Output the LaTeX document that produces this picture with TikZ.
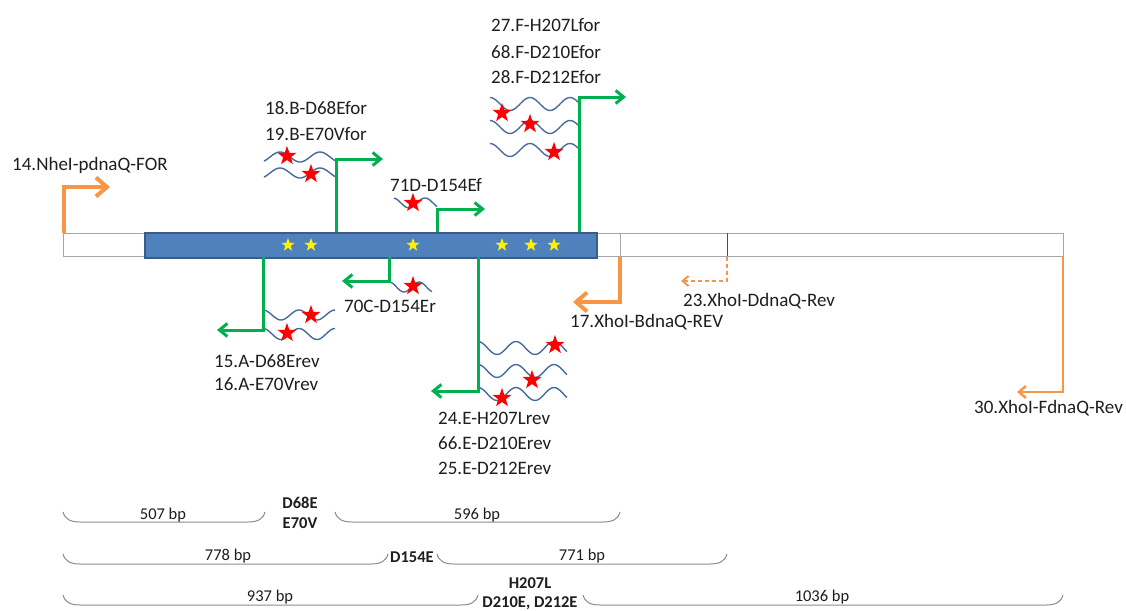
\documentclass[tikz,border=0pt]{standalone}
\usepackage{fontspec}
\setmainfont{Carlito}
\usetikzlibrary{arrows.meta,shapes.geometric}
\definecolor{grn}{RGB}{0,176,80}
\definecolor{org}{RGB}{247,150,70}
\definecolor{barblue}{RGB}{79,129,189}
\definecolor{barline}{RGB}{56,93,138}
\definecolor{wavec}{RGB}{72,106,158}
\definecolor{txt}{RGB}{30,30,30}
\definecolor{bracec}{RGB}{140,140,140}
\tikzset{
 lbl/.style={anchor=west, inner sep=0pt, text=txt, font=\fontsize{19}{21}\selectfont},
 bplbl/.style={inner sep=0pt, text=txt, font=\fontsize{16.5}{18}\selectfont},
 mutlbl/.style={inner sep=0pt, text=txt, font=\bfseries\fontsize{16.5}{18}\selectfont},
 gprimer/.style={draw=grn, line width=3pt, -{Straight Barb[length=8pt,width=13pt]}},
 oprimer/.style={draw=org, line width=4pt, -{Straight Barb[length=11pt,width=19pt]}},
 othin/.style={draw=org, line width=2.5pt, -{Straight Barb[length=7pt,width=12pt]}},
 odash/.style={draw=org, line width=2pt, dash pattern=on 4pt off 3pt, -{Straight Barb[length=6pt,width=10pt]}},
 wave/.style={draw=wavec, line width=1.4pt},
 rstar/.style={star, star points=5, star point ratio=2.5, fill=red, inner sep=0pt, minimum size=20pt},
 ystar/.style={star, star points=5, star point ratio=2.5, fill=yellow, inner sep=0pt, minimum size=14pt},
 brc/.style={draw=bracec, line width=1pt},
}
\newcommand\wv[6]{\draw[wave] plot[variable=\t, domain=0:1, samples=50, smooth] ({#1+\t*(#2-#1)},{#3-#4*cos((#1+\t*(#2-#1)-#5)/#6*360)});}
\newcommand\bpbrace[3]{\draw[brc] (#1,#3-10) .. controls (#1+2,#3-3) and (#1+7,#3) .. (#1+17,#3) -- (#2-17,#3) .. controls (#2-7,#3) and (#2-2,#3-3) .. (#2,#3-10);}
\begin{document}
\begin{tikzpicture}[x=1pt,y=-1pt]
\useasboundingbox[fill=white] (0,0) rectangle (1126,610);
% gene bar
\node[draw=gray!70, fill=white, line width=1pt, minimum width=1000pt, minimum height=23pt, inner sep=0pt, anchor=north west] (gene) at (63,233) {};
\node[draw=barline, fill=barblue, line width=1.5pt, minimum width=452pt, minimum height=25pt, inner sep=0pt, anchor=north west] (cds) at (144,232) {};
\draw[gray!70, line width=1pt] (620,233) -- (620,256);
\draw[black!70, line width=1pt] (727,233) -- (727,256);
% yellow stars
\foreach \i/\xx in {1/288,2/311,3/413,4/502,5/531,6/554} \node[ystar] (ys\i) at (\xx,245) {};
% coordinates
\coordinate (o14a) at (64,233); \coordinate (o14b) at (110,187);
\coordinate (o17a) at (620,257); \coordinate (o17b) at (573,302);
\coordinate (o23a) at (727,257); \coordinate (o23b) at (681,281);
\coordinate (o30a) at (1063,257); \coordinate (o30b) at (1017,392);
\coordinate (gBa) at (336,232); \coordinate (gBb) at (383,159);
\coordinate (gDa) at (437,232); \coordinate (gDb) at (485,209);
\coordinate (gFa) at (579,232); \coordinate (gFb) at (626,97);
\coordinate (gAa) at (263,257); \coordinate (gAb) at (217,330);
\coordinate (gCa) at (389,257); \coordinate (gCb) at (342,281);
\coordinate (gEa) at (478,257); \coordinate (gEb) at (431,391);
% waves
\wv{264}{336}{157}{5}{280}{40}
\wv{264}{336}{173}{5}{280}{40}
\wv{394}{437}{203}{5}{393}{32}
\wv{490}{579}{104}{6.5}{490}{40}
\wv{490}{579}{127}{6.5}{490}{40}
\wv{490}{579}{150}{6.5}{490}{40}
\wv{263}{335}{315}{5}{263}{36}
\wv{263}{335}{334}{5.5}{263}{36}
\wv{389}{432}{287}{5}{389}{30}
\wv{478}{567}{348}{6.5}{478}{38}
\wv{478}{567}{371}{6.5}{478}{38}
\wv{478}{567}{394}{6.5}{478}{38}
% primers
\draw[oprimer] (o14a) |- (o14b);
\draw[oprimer] (o17a) |- (o17b);
\draw[odash] (o23a) |- (o23b);
\draw[othin] (o30a) |- (o30b);
\draw[gprimer] (gBa) |- (gBb);
\draw[gprimer] (gDa) |- (gDb);
\draw[gprimer] (gFa) |- (gFb);
\draw[gprimer] (gAa) |- (gAb);
\draw[gprimer] (gCa) |- (gCb);
\draw[gprimer] (gEa) |- (gEb);
% red stars
\foreach \i/\xx/\yy in {1/287/156,2/311/174,3/413/203,4/502/113,5/530/124,6/554/152,7/311/315,8/287/333,9/413/286,10/555/345,11/532/380,12/502/398}
  \node[rstar] (rs\i) at (\xx,\yy) {};
% labels
\node[lbl] (l14) at (12,165) {14.NheI-pdnaQ-FOR};
\node[lbl] (l18) at (265,108) {18.B-D68Efor};
\node[lbl] (l19) at (265,134) {19.B-E70Vfor};
\node[lbl] (l71) at (390,185) {71D-D154Ef};
\node[lbl] (l27) at (491,25) {27.F-H207Lfor};
\node[lbl] (l68) at (491,52) {68.F-D210Efor};
\node[lbl] (l28) at (491,77) {28.F-D212Efor};
\node[lbl] (l70) at (344,306) {70C-D154Er};
\node[lbl] (l15) at (214,361) {15.A-D68Erev};
\node[lbl] (l16) at (214,384) {16.A-E70Vrev};
\node[lbl] (l24) at (438,418) {24.E-H207Lrev};
\node[lbl] (l66) at (438,443) {66.E-D210Erev};
\node[lbl] (l25) at (438,468) {25.E-D212Erev};
\node[lbl] (l17) at (570,322) {17.XhoI-BdnaQ-REV};
\node[lbl] (l23) at (683,301) {23.XhoI-DdnaQ-Rev};
\node[lbl] (l30) at (974,408) {30.XhoI-FdnaQ-Rev};
% fragment braces
\bpbrace{63}{265}{522}
\bpbrace{335}{620}{522}
\bpbrace{63}{388}{564}
\bpbrace{437}{727}{564}
\bpbrace{63}{478}{605}
\bpbrace{583}{1063}{605}
\node[bplbl] (b507) at (163,515) {507 bp};
\node[bplbl] (b596) at (477,515) {596 bp};
\node[bplbl] (b778) at (228,556) {778 bp};
\node[bplbl] (b771) at (582,556) {771 bp};
\node[bplbl] (b937) at (270,597) {937 bp};
\node[bplbl] (b1036) at (822,597) {1036 bp};
\node[mutlbl] (m1) at (300,503) {D68E};
\node[mutlbl] (m2) at (300,523) {E70V};
\node[mutlbl] (m3) at (412,557) {D154E};
\node[mutlbl] (m4) at (530,583) {H207L};
\node[mutlbl] (m5) at (530,603) {D210E, D212E};
\end{tikzpicture}
\end{document}
